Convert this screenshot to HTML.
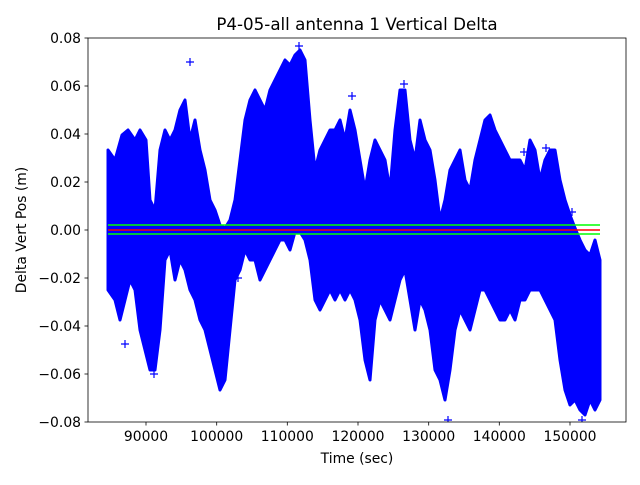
<!DOCTYPE html>
<html><head><meta charset="utf-8"><style>
body{margin:0;background:#fff;}
svg text{font-family:"DejaVu Sans","Liberation Sans",sans-serif;fill:#000;}
</style></head><body>
<svg width="640" height="480" viewBox="0 0 640 480" xmlns="http://www.w3.org/2000/svg">
<rect width="640" height="480" fill="#fff"/>
<defs><clipPath id="c"><rect x="88" y="38" width="538" height="384"/></clipPath></defs>
<g clip-path="url(#c)">
<polygon fill="#0000ff" stroke="#0000ff" stroke-width="3" stroke-linejoin="round" points="
108,150 115,160 122,135 128,130 135,140 140,130 146,140 150,200 155,210 160,150 165,130 170,140 175,130 180,110 185,100 190,140 195,120 200,150 205,170 210,200 215,210 220,225 225,228 230,220 235,200 240,160 245,120 250,100 255,90 260,100 265,110 270,90 275,80 280,70 285,60 290,65 295,55 300,50 305,60 310,120 315,170 320,150 325,140 330,130 335,130 340,120 345,140 350,110 355,130 360,160 365,190 370,160 375,140 380,150 385,160 390,190 395,130 400,90 405,90 410,140 415,160 420,120 425,140 430,150 435,180 440,220 445,200 450,170 455,160 460,150 465,180 470,190 475,160 480,140 485,120 490,115 495,130 500,140 505,150 510,160 515,160 520,160 525,170 530,140 535,150 540,180 545,160 550,150 555,150 560,180 565,200 570,215 575,228 580,240 585,250 590,255 595,240 600,260
600,400 595,410 590,400 585,415 580,410 575,400 570,405 565,390 560,360 555,320 550,310 545,300 540,290 535,290 530,290 525,300 520,300 515,320 510,310 505,320 500,320 495,310 490,300 485,290 480,290 475,310 470,330 465,320 460,310 455,330 450,370 445,400 440,380 435,370 430,330 425,310 420,300 415,330 410,300 405,270 400,280 395,300 390,320 385,310 380,300 375,320 370,380 365,360 360,320 355,300 350,290 345,300 340,290 335,300 330,290 325,300 320,310 315,300 310,260 305,240 300,232 295,232 290,250 285,240 280,240 275,250 270,260 265,270 260,280 255,260 250,260 245,250 240,270 235,280 230,330 225,380 220,390 215,370 210,350 205,330 200,320 195,300 190,290 185,270 180,260 175,280 170,250 165,260 160,330 155,370 150,370 145,350 140,330 135,290 130,280 125,300 120,320 115,300 108,290"/>
<g stroke="#0000ff" stroke-width="1.2" fill="none">
<path d="M186,62h8M190,58v8 M121,344h8M125,340v8 M150,374h8M154,370v8 M295,46h8M299,42v8 M348,96h8M352,92v8 M400,84h8M404,80v8 M568,212h8M572,208v8 M444,420h8M448,416v8 M578,420h8M582,416v8 M520,152h8M524,148v8 M542,148h8M546,144v8 M234,278h8M238,274v8"/>
</g>
<line x1="108" y1="225" x2="600" y2="225" stroke="#00ff00" stroke-width="1.5"/>
<line x1="108" y1="234" x2="600" y2="234" stroke="#00ff00" stroke-width="1.5"/>
<line x1="108" y1="230" x2="600" y2="230" stroke="#ff0000" stroke-width="1.5"/>
</g>
<rect x="88" y="38" width="538" height="384" fill="none" stroke="#000" stroke-width="0.8"/>
<g stroke="#000" stroke-width="0.8">
<line x1="88" y1="38" x2="84.5" y2="38"/><line x1="88" y1="86" x2="84.5" y2="86"/><line x1="88" y1="134" x2="84.5" y2="134"/><line x1="88" y1="182" x2="84.5" y2="182"/><line x1="88" y1="230" x2="84.5" y2="230"/><line x1="88" y1="278" x2="84.5" y2="278"/><line x1="88" y1="326" x2="84.5" y2="326"/><line x1="88" y1="374" x2="84.5" y2="374"/><line x1="88" y1="422" x2="84.5" y2="422"/>
<line x1="146" y1="422" x2="146" y2="425.5"/><line x1="216.7" y1="422" x2="216.7" y2="425.5"/><line x1="287.3" y1="422" x2="287.3" y2="425.5"/><line x1="358" y1="422" x2="358" y2="425.5"/><line x1="428.7" y1="422" x2="428.7" y2="425.5"/><line x1="499.3" y1="422" x2="499.3" y2="425.5"/><line x1="570" y1="422" x2="570" y2="425.5"/>
</g>
<g font-size="13.9" text-anchor="end">
<text x="81" y="43">0.08</text><text x="81" y="91">0.06</text><text x="81" y="139">0.04</text><text x="81" y="187">0.02</text><text x="81" y="235">0.00</text><text x="81" y="283">−0.02</text><text x="81" y="331">−0.04</text><text x="81" y="379">−0.06</text><text x="81" y="427">−0.08</text>
</g>
<g font-size="13.9" text-anchor="middle">
<text x="146" y="441">90000</text><text x="216.7" y="441">100000</text><text x="287.3" y="441">110000</text><text x="358" y="441">120000</text><text x="428.7" y="441">130000</text><text x="499.3" y="441">140000</text><text x="570" y="441">150000</text>
</g>
<text x="357" y="463" font-size="13.9" text-anchor="middle">Time (sec)</text>
<text transform="translate(26,230) rotate(-90)" font-size="13.9" text-anchor="middle">Delta Vert Pos (m)</text>
<text x="357" y="30" font-size="16.7" text-anchor="middle">P4-05-all antenna 1 Vertical Delta</text>
</svg>
</body></html>
